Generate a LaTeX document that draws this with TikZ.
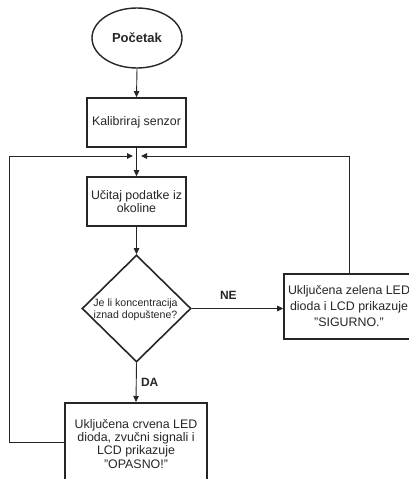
\documentclass[tikz,border=0pt]{standalone}
\usepackage{fontspec}
\setmainfont{Liberation Sans}
\usetikzlibrary{shapes.geometric,arrows.meta}
\tikzset{
  box/.style={draw=black!85, line width=1.6pt, rectangle, inner sep=0pt, align=center, font=\fontsize{12.4}{15}\selectfont, text=black!85},
  conn/.style={draw=black!85, line width=0.9pt},
  arr/.style={conn, -{Triangle[length=6pt,width=5.5pt]}},
  lbl/.style={font=\bfseries\fontsize{12}{14}\selectfont, text=black!85},
}
\begin{document}
\begin{tikzpicture}[x=1pt,y=-1pt]
\useasboundingbox (0,0) rectangle (409,479);
\clip (0,0) rectangle (409,479);
\fill[white] (0,0) rectangle (409,479);

\node[draw=black!85, line width=1.4pt, ellipse, minimum width=90pt, minimum height=60pt, inner sep=0pt,
      font=\bfseries\fontsize{13}{15}\selectfont, text=black!85] (start) at (137,38) {Početak};

\node[box, minimum width=99pt, minimum height=49pt] (kal) at (136.5,122.5) {Kalibriraj senzor};

\coordinate (J) at (137,156);
\coordinate (Jl) at (133,156);
\coordinate (Jr) at (141,156);

\node[box, minimum width=99pt, minimum height=49pt, font=\fontsize{12.4}{13.5}\selectfont] (uc) at (136.5,201.5) {Učitaj podatke iz\\okoline};

\node[draw=black!85, line width=1.6pt, diamond, minimum width=109pt, minimum height=107pt, inner sep=0pt] (dia) at (136.5,308.5) {};
\node[align=center, inner sep=0pt, font=\fontsize{10.6}{12}\selectfont, text=black!85] (diatext) at (135.5,310) {Je li koncentracija\\iznad dopuštene?};

\node[box, minimum width=130pt, minimum height=65pt, font=\fontsize{12.4}{16}\selectfont] (sig) at (349,306.5) {Uključena zelena LED\\dioda i LCD prikazuje\\"SIGURNO."};

\node[box, minimum width=142pt, minimum height=82pt, anchor=north, font=\fontsize{12.4}{13.4}\selectfont] (red) at (136,402) {Uključena crvena LED\\dioda, zvučni signali i\\LCD prikazuje\\"OPASNO!"};

\coordinate (LL) at (9,442);
\coordinate (LT) at (9,156);
\coordinate (RT) at (349,156);

\draw[arr] (start.south) -- (kal.north);
\draw[arr] (kal.south) -- (uc.north);
\draw[arr] (uc.south) -- (dia.north);
\draw[arr] (dia.east) -- (sig.west |- dia.east) node[lbl, pos=0.4, above=5pt] (ne) {NE};
\draw[arr] (dia.south) -- (red.north) node[lbl, pos=0.5, right=1pt] (da) {DA};
\draw[arr] (red.west |- LL) -- (LL) -- (LT) -- (Jl);
\draw[arr] (sig.north) -- (RT) -- (Jr);
\end{tikzpicture}
\end{document}
